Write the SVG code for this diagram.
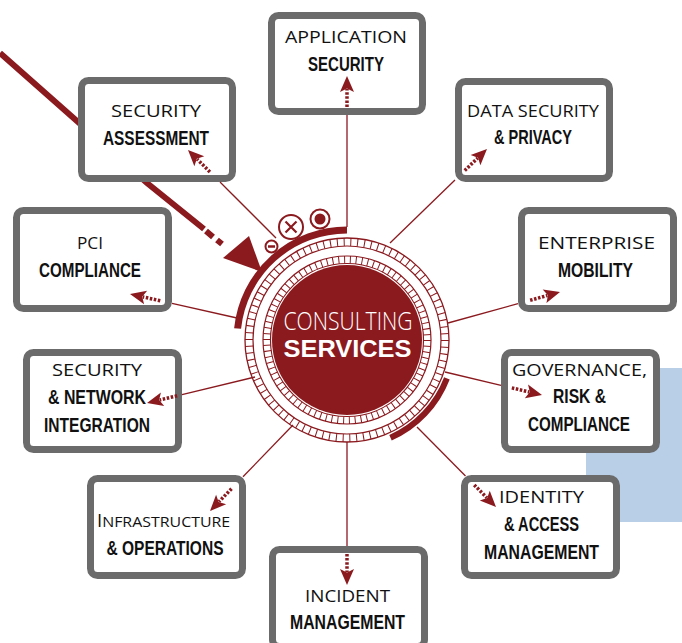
<svg xmlns="http://www.w3.org/2000/svg" xmlns:xlink="http://www.w3.org/1999/xlink" width="682" height="643" viewBox="0 0 682 643">
<style>
.box{fill:#fff;stroke:#6b6b6b;stroke-width:7}
.t1{font-family:"Open Sans","Liberation Sans",sans-serif;font-weight:normal;font-size:16px;fill:#111;text-anchor:middle}
.t2{font-family:"Liberation Sans",Arial,sans-serif;font-weight:bold;font-size:19.5px;fill:#111;text-anchor:middle}
.ln{stroke:#8b1a1f;stroke-width:1.3;fill:none}
.red{fill:#8b1a1f}
</style>
<defs>
<g id="arr">
<line x1="-31" y1="0" x2="-13" y2="0" stroke="#8b1a1f" stroke-width="3.5" stroke-dasharray="2.5 1.6"/>
<path d="M0,0 L-16,-7 L-12.5,0 L-16,7 Z" fill="#8b1a1f"/>
</g>
</defs>
<rect x="586" y="368" width="96" height="154" fill="#b8cfe7"/>
<g id="decor">
<path d="M0,53 L147,183 L204,229" fill="none" stroke="#8b1a1f" stroke-width="6"/>
<path d="M206,231 L213,237 M217,240 L222,244" fill="none" stroke="#8b1a1f" stroke-width="6"/>
<polygon points="223,258 249,236 262,272" class="red"/>
</g>
<g id="hub">
<circle cx="347" cy="340" r="102" fill="#fff" stroke="#8b1a1f" stroke-width="1.3"/>
<circle cx="347" cy="340" r="94" fill="none" stroke="#8b1a1f" stroke-width="1.2"/>
<circle cx="347" cy="340" r="98" fill="none" stroke="#8b1a1f" stroke-width="8" pathLength="90" stroke-dasharray="0.15 0.85"/>
<circle cx="347" cy="340" r="84" fill="none" stroke="#8b1a1f" stroke-width="1.2"/>
<circle cx="347" cy="340" r="80.25" fill="none" stroke="#8b1a1f" stroke-width="7.5" pathLength="86" stroke-dasharray="0.17 0.83"/>
<circle cx="347" cy="340" r="76.5" fill="none" stroke="#8b1a1f" stroke-width="1.2"/>
<circle cx="347" cy="340" r="75" fill="#8b1a1f"/>
<path d="M237.6,328.5 A110,110 0 0 1 347,230" fill="none" stroke="#8b1a1f" stroke-width="7"/>
<path d="M446.9,378.3 A107,107 0 0 1 390.5,437.7" fill="none" stroke="#8b1a1f" stroke-width="6"/>
<circle cx="271.5" cy="246.5" r="6" fill="#fff" stroke="#8b1a1f" stroke-width="2"/>
<line x1="268" y1="246.5" x2="275" y2="246.5" stroke="#8b1a1f" stroke-width="2.5"/>
<circle cx="291" cy="227" r="12" fill="#fff" stroke="#8b1a1f" stroke-width="2"/>
<path d="M285.5,221.5 L296.5,232.5 M296.5,221.5 L285.5,232.5" stroke="#8b1a1f" stroke-width="2.2"/>
<circle cx="320" cy="219" r="9.5" fill="#fff" stroke="#8b1a1f" stroke-width="2"/>
<circle cx="320" cy="219" r="5.5" class="red"/>
<text x="348" y="330" textLength="129" lengthAdjust="spacingAndGlyphs" style="font-family:'Open Sans','Liberation Sans',sans-serif;font-weight:300;font-size:25.5px;fill:#fff;text-anchor:middle">CONSULTING</text>
<text x="347.5" y="356.7" textLength="128" lengthAdjust="spacingAndGlyphs" style="font-family:'Liberation Sans',Arial,sans-serif;font-weight:bold;font-size:24px;fill:#fff;text-anchor:middle">SERVICES</text>
</g>
<g id="n-app"><rect class="box" x="271.5" y="15.5" width="151" height="96" rx="7"/>
<text class="t1" x="346" y="43.3" textLength="122" lengthAdjust="spacingAndGlyphs">APPLICATION</text>
<text class="t2" x="346" y="71" textLength="76" lengthAdjust="spacingAndGlyphs">SECURITY</text></g>
<g id="n-data"><rect class="box" x="458.5" y="81.5" width="151" height="97" rx="7"/>
<text class="t1" x="533" y="117.3" textLength="132" lengthAdjust="spacingAndGlyphs" style="font-size:15.5px">DATA SECURITY</text>
<text class="t2" x="533" y="144" textLength="78" lengthAdjust="spacingAndGlyphs">&amp; PRIVACY</text></g>
<g id="n-assess"><rect class="box" x="81.5" y="80.5" width="151" height="98" rx="7"/>
<text class="t1" x="156" y="117.3" textLength="90" lengthAdjust="spacingAndGlyphs">SECURITY</text>
<text class="t2" x="156" y="145" textLength="106" lengthAdjust="spacingAndGlyphs">ASSESSMENT</text></g>
<g id="n-pci"><rect class="box" x="16.5" y="210.5" width="152" height="98" rx="7"/>
<text class="t1" x="90" y="249" textLength="26" lengthAdjust="spacingAndGlyphs">PCI</text>
<text class="t2" x="90" y="277" textLength="102" lengthAdjust="spacingAndGlyphs">COMPLIANCE</text></g>
<g id="n-network"><rect class="box" x="26.5" y="352.5" width="152" height="97" rx="7"/>
<text class="t1" x="97" y="376" textLength="90" lengthAdjust="spacingAndGlyphs">SECURITY</text>
<text class="t2" x="97" y="404" textLength="98" lengthAdjust="spacingAndGlyphs">&amp; NETWORK</text>
<text class="t2" x="97" y="432" textLength="106" lengthAdjust="spacingAndGlyphs">INTEGRATION</text></g>
<g id="n-infra"><rect class="box" x="90.5" y="478.5" width="152" height="97" rx="7"/>
<text class="t1" x="97" y="527" style="text-anchor:start"><tspan style="font-size:18.5px">I</tspan><tspan style="font-size:15px" textLength="128" lengthAdjust="spacingAndGlyphs">NFRASTRUCTURE</tspan></text>
<text class="t2" x="165" y="555" textLength="117" lengthAdjust="spacingAndGlyphs">&amp; OPERATIONS</text></g>
<g id="n-incident"><rect class="box" x="272.5" y="549.5" width="152" height="97" rx="7"/>
<text class="t1" x="347.5" y="602" textLength="85" lengthAdjust="spacingAndGlyphs">INCIDENT</text>
<text class="t2" x="347.5" y="629" textLength="115" lengthAdjust="spacingAndGlyphs">MANAGEMENT</text></g>
<g id="n-identity"><rect class="box" x="464.5" y="478.5" width="152" height="97" rx="7"/>
<text class="t1" x="541.5" y="503" textLength="85" lengthAdjust="spacingAndGlyphs">IDENTITY</text>
<text class="t2" x="541.5" y="531" textLength="75" lengthAdjust="spacingAndGlyphs">&amp; ACCESS</text>
<text class="t2" x="541.5" y="559" textLength="115" lengthAdjust="spacingAndGlyphs">MANAGEMENT</text></g>
<g id="n-governance"><rect class="box" x="504.5" y="352.5" width="152" height="97" rx="7"/>
<text class="t1" x="579.5" y="376" textLength="135" lengthAdjust="spacingAndGlyphs">GOVERNANCE,</text>
<text class="t2" x="579.5" y="403" textLength="53" lengthAdjust="spacingAndGlyphs">RISK &amp;</text>
<text class="t2" x="579" y="431" textLength="102" lengthAdjust="spacingAndGlyphs">COMPLIANCE</text></g>
<g id="n-enterprise"><rect class="box" x="521.5" y="210.5" width="152" height="98" rx="7"/>
<text class="t1" x="596.5" y="249" textLength="117" lengthAdjust="spacingAndGlyphs">ENTERPRISE</text>
<text class="t2" x="595.5" y="277" textLength="75" lengthAdjust="spacingAndGlyphs">MOBILITY</text></g>
<g id="connectors">
<line class="ln" x1="347" y1="227" x2="347" y2="115"/>
<use xlink:href="#arr" transform="translate(347,76) rotate(-90)"/>
<line class="ln" x1="390" y1="243" x2="455" y2="180"/>
<use xlink:href="#arr" transform="translate(487,149) rotate(-44.1)"/>
<line class="ln" x1="276" y1="238" x2="220" y2="182"/>
<use xlink:href="#arr" transform="translate(188,150) rotate(-135)"/>
<line class="ln" x1="237" y1="318" x2="172" y2="303.4"/>
<use xlink:href="#arr" transform="translate(130,294) rotate(-167.4)"/>
<line class="ln" x1="255" y1="377" x2="182" y2="394.6"/>
<use xlink:href="#arr" transform="translate(147,403) rotate(166.5)"/>
<line class="ln" x1="293" y1="425" x2="243" y2="476.8"/>
<use xlink:href="#arr" transform="translate(210,511) rotate(134)"/>
<line class="ln" x1="347" y1="442" x2="347" y2="546"/>
<use xlink:href="#arr" transform="translate(347,585) rotate(90)"/>
<line class="ln" x1="417" y1="427" x2="465.5" y2="476"/>
<use xlink:href="#arr" transform="translate(496,507) rotate(45.4)"/>
<line class="ln" x1="445" y1="372" x2="501" y2="385.3"/>
<use xlink:href="#arr" transform="translate(542,395) rotate(13.3)"/>
<line class="ln" x1="448" y1="323" x2="518" y2="303.6"/>
<use xlink:href="#arr" transform="translate(560,292) rotate(-15.5)"/>
</g>
</svg>
